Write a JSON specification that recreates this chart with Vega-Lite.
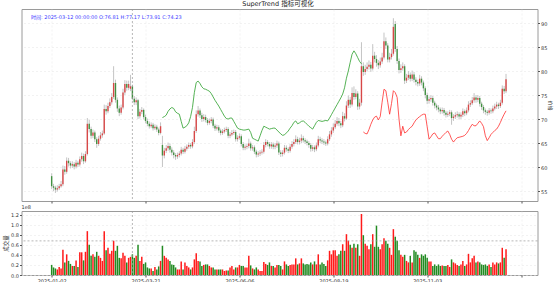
{
  "$schema": "https://vega.github.io/schema/vega-lite/v6.json",
  "background": "white",
  "padding": {"left": 2.5, "top": 0, "right": 0, "bottom": 0},
  "title": {"text": "SuperTrend 指标可视化", "anchor": "middle", "fontSize": 6.5, "fontWeight": "normal", "offset": 1, "color": "#222222"},
  "config": {
    "font": "DejaVu Sans, Noto Sans CJK SC",
    "view": {"stroke": "#9a9a9a", "strokeWidth": 1},
    "axis": {"labelFontSize": 5, "titleFontSize": 5.5, "tickSize": 2, "labelPadding": 1, "titlePadding": 2, "domain": false, "labelOverlap": false, "tickColor": "#555555", "labelColor": "#333333", "titleColor": "#333333", "gridColor": "#e4e4e4", "gridDash": [2, 2], "gridWidth": 0.5, "titleFontWeight": "normal"}
  },
  "datasets": {
    "k": [
      {"i":0,"o":58.1,"h":58.7,"l":55.4,"c":56.0,"v":20000000},
      {"i":1,"o":56.0,"h":56.5,"l":55.0,"c":55.7,"v":15000000},
      {"i":2,"o":55.7,"h":56.1,"l":54.6,"c":55.3,"v":13000000},
      {"i":3,"o":55.3,"h":56.2,"l":54.9,"c":55.6,"v":11000000},
      {"i":4,"o":55.6,"h":56.5,"l":55.2,"c":56.0,"v":16000000},
      {"i":5,"o":56.0,"h":57.1,"l":55.7,"c":56.4,"v":13000000},
      {"i":6,"o":56.4,"h":60.3,"l":56.0,"c":59.5,"v":50000000},
      {"i":7,"o":59.5,"h":60.2,"l":58.4,"c":59.0,"v":25000000},
      {"i":8,"o":59.0,"h":62.0,"l":58.6,"c":61.3,"v":41000000},
      {"i":9,"o":61.3,"h":61.9,"l":60.1,"c":60.8,"v":28000000},
      {"i":10,"o":60.8,"h":61.2,"l":59.7,"c":60.3,"v":22000000},
      {"i":11,"o":60.3,"h":61.2,"l":59.8,"c":60.6,"v":18000000},
      {"i":12,"o":60.6,"h":61.0,"l":59.5,"c":60.1,"v":18000000},
      {"i":13,"o":60.1,"h":61.5,"l":59.7,"c":60.9,"v":29000000},
      {"i":14,"o":60.9,"h":61.3,"l":60.0,"c":60.5,"v":16000000},
      {"i":15,"o":60.5,"h":62.2,"l":60.1,"c":61.6,"v":45000000},
      {"i":16,"o":61.6,"h":63.0,"l":61.1,"c":62.3,"v":45000000},
      {"i":17,"o":62.3,"h":62.8,"l":60.6,"c":61.2,"v":29000000},
      {"i":18,"o":61.2,"h":63.3,"l":60.9,"c":62.7,"v":46000000},
      {"i":19,"o":62.7,"h":70.2,"l":62.4,"c":69.0,"v":87000000},
      {"i":20,"o":69.0,"h":69.8,"l":67.2,"c":67.9,"v":60000000},
      {"i":21,"o":67.9,"h":68.4,"l":65.9,"c":66.5,"v":38000000},
      {"i":22,"o":66.5,"h":67.8,"l":66.0,"c":67.2,"v":41000000},
      {"i":23,"o":67.2,"h":67.6,"l":65.2,"c":65.8,"v":36000000},
      {"i":24,"o":65.8,"h":66.2,"l":64.0,"c":64.8,"v":46000000},
      {"i":25,"o":64.8,"h":66.5,"l":64.4,"c":65.9,"v":38000000},
      {"i":26,"o":65.9,"h":67.3,"l":65.5,"c":66.6,"v":34000000},
      {"i":27,"o":66.6,"h":67.6,"l":66.1,"c":67.0,"v":28000000},
      {"i":28,"o":67.0,"h":73.0,"l":66.7,"c":72.1,"v":87000000},
      {"i":29,"o":72.1,"h":72.9,"l":70.9,"c":71.6,"v":49000000},
      {"i":30,"o":71.6,"h":73.4,"l":71.2,"c":72.7,"v":54000000},
      {"i":31,"o":72.7,"h":74.3,"l":72.3,"c":73.5,"v":42000000},
      {"i":32,"o":73.5,"h":75.4,"l":73.0,"c":74.6,"v":48000000},
      {"i":33,"o":74.6,"h":81.0,"l":74.2,"c":77.5,"v":68000000},
      {"i":34,"o":77.5,"h":78.2,"l":73.4,"c":74.0,"v":48000000},
      {"i":35,"o":74.0,"h":74.5,"l":71.5,"c":72.2,"v":58000000},
      {"i":36,"o":72.2,"h":72.8,"l":70.6,"c":71.3,"v":34000000},
      {"i":37,"o":71.3,"h":73.0,"l":70.9,"c":72.4,"v":33000000},
      {"i":38,"o":72.4,"h":76.3,"l":72.0,"c":75.5,"v":44000000},
      {"i":39,"o":75.5,"h":78.1,"l":75.0,"c":77.3,"v":38000000},
      {"i":40,"o":77.3,"h":78.0,"l":75.9,"c":76.5,"v":25000000},
      {"i":41,"o":76.5,"h":78.0,"l":76.0,"c":77.3,"v":34000000},
      {"i":42,"o":76.3,"h":79.2,"l":75.8,"c":76.81,"v":36000000},
      {"i":43,"o":76.81,"h":77.17,"l":73.91,"c":74.23,"v":41000000},
      {"i":44,"o":74.2,"h":74.8,"l":72.9,"c":73.5,"v":34000000},
      {"i":45,"o":73.5,"h":74.5,"l":72.9,"c":73.9,"v":38000000},
      {"i":46,"o":73.9,"h":74.2,"l":70.0,"c":70.6,"v":60000000},
      {"i":47,"o":70.6,"h":72.1,"l":70.1,"c":71.5,"v":28000000},
      {"i":48,"o":71.5,"h":72.5,"l":71.0,"c":71.9,"v":36000000},
      {"i":49,"o":71.9,"h":72.2,"l":69.9,"c":70.4,"v":22000000},
      {"i":50,"o":70.4,"h":70.9,"l":69.1,"c":69.6,"v":25000000},
      {"i":51,"o":69.6,"h":70.1,"l":68.5,"c":69.0,"v":15000000},
      {"i":52,"o":69.0,"h":69.5,"l":68.0,"c":68.5,"v":13000000},
      {"i":53,"o":68.5,"h":69.3,"l":68.1,"c":68.8,"v":13000000},
      {"i":54,"o":68.8,"h":69.2,"l":67.6,"c":68.1,"v":8000000},
      {"i":55,"o":68.1,"h":68.9,"l":67.7,"c":68.4,"v":16000000},
      {"i":56,"o":68.4,"h":68.8,"l":67.3,"c":67.8,"v":11000000},
      {"i":57,"o":67.8,"h":68.2,"l":66.6,"c":67.1,"v":17000000},
      {"i":58,"o":67.1,"h":69.3,"l":66.8,"c":68.5,"v":28000000},
      {"i":59,"o":64.6,"h":66.5,"l":60.0,"c":62.4,"v":58000000,"st":70.3,"t":"down"},
      {"i":60,"o":62.4,"h":64.0,"l":61.8,"c":63.4,"v":38000000,"st":70.5,"t":"down"},
      {"i":61,"o":63.4,"h":64.6,"l":62.9,"c":63.9,"v":34000000,"st":70.8,"t":"down"},
      {"i":62,"o":63.9,"h":65.1,"l":63.4,"c":64.4,"v":31000000,"st":71.6,"t":"down"},
      {"i":63,"o":64.4,"h":64.9,"l":63.0,"c":63.6,"v":28000000,"st":72.1,"t":"down"},
      {"i":64,"o":63.6,"h":64.1,"l":62.4,"c":63.0,"v":21000000,"st":72.4,"t":"down"},
      {"i":65,"o":63.0,"h":63.5,"l":61.8,"c":62.5,"v":20000000,"st":72.2,"t":"down"},
      {"i":66,"o":62.5,"h":62.9,"l":61.5,"c":62.2,"v":15000000,"st":71.5,"t":"down"},
      {"i":67,"o":62.2,"h":63.0,"l":61.7,"c":62.5,"v":11000000,"st":71.2,"t":"down"},
      {"i":68,"o":62.5,"h":63.3,"l":62.0,"c":62.8,"v":11000000,"st":71.0,"t":"down"},
      {"i":69,"o":62.8,"h":64.2,"l":62.4,"c":63.6,"v":27000000,"st":69.5,"t":"down"},
      {"i":70,"o":63.6,"h":64.0,"l":62.7,"c":63.2,"v":11000000,"st":68.1,"t":"down"},
      {"i":71,"o":63.2,"h":64.4,"l":62.8,"c":63.8,"v":25000000,"st":68.3,"t":"down"},
      {"i":72,"o":63.8,"h":64.7,"l":63.4,"c":64.2,"v":18000000,"st":68.6,"t":"down"},
      {"i":73,"o":64.2,"h":65.1,"l":63.8,"c":64.6,"v":15000000,"st":69.2,"t":"down"},
      {"i":74,"o":64.6,"h":65.0,"l":63.8,"c":64.3,"v":11000000,"st":70.5,"t":"down"},
      {"i":75,"o":64.3,"h":65.8,"l":63.9,"c":65.2,"v":15000000,"st":72.4,"t":"down"},
      {"i":76,"o":65.2,"h":68.4,"l":64.8,"c":67.5,"v":31000000,"st":75.5,"t":"down"},
      {"i":77,"o":67.5,"h":71.8,"l":67.1,"c":71.0,"v":43000000,"st":77.6,"t":"down"},
      {"i":78,"o":71.0,"h":72.7,"l":70.5,"c":71.8,"v":28000000,"st":77.9,"t":"down"},
      {"i":79,"o":71.8,"h":72.2,"l":70.2,"c":70.8,"v":27000000,"st":77.4,"t":"down"},
      {"i":80,"o":70.8,"h":71.3,"l":69.4,"c":70.0,"v":18000000,"st":76.7,"t":"down"},
      {"i":81,"o":70.0,"h":71.0,"l":69.5,"c":70.4,"v":20000000,"st":76.3,"t":"down"},
      {"i":82,"o":70.4,"h":70.9,"l":69.3,"c":69.8,"v":21000000,"st":76.2,"t":"down"},
      {"i":83,"o":69.8,"h":70.2,"l":68.7,"c":69.2,"v":21000000,"st":76.0,"t":"down"},
      {"i":84,"o":69.2,"h":70.1,"l":68.8,"c":69.6,"v":18000000,"st":75.8,"t":"down"},
      {"i":85,"o":69.6,"h":70.4,"l":69.1,"c":69.9,"v":15000000,"st":75.3,"t":"down"},
      {"i":86,"o":69.9,"h":70.3,"l":68.1,"c":68.6,"v":15000000,"st":74.6,"t":"down"},
      {"i":87,"o":68.6,"h":69.0,"l":67.5,"c":68.0,"v":11000000,"st":73.9,"t":"down"},
      {"i":88,"o":68.0,"h":68.8,"l":67.6,"c":68.3,"v":11000000,"st":73.3,"t":"down"},
      {"i":89,"o":68.3,"h":68.7,"l":67.1,"c":67.6,"v":11000000,"st":72.7,"t":"down"},
      {"i":90,"o":67.6,"h":68.0,"l":66.6,"c":67.1,"v":11000000,"st":72.0,"t":"down"},
      {"i":91,"o":67.1,"h":67.9,"l":66.7,"c":67.4,"v":11000000,"st":71.3,"t":"down"},
      {"i":92,"o":67.4,"h":68.2,"l":67.0,"c":67.7,"v":8000000,"st":70.6,"t":"down"},
      {"i":93,"o":67.7,"h":68.4,"l":67.3,"c":67.9,"v":9000000,"st":70.1,"t":"down"},
      {"i":94,"o":67.9,"h":68.3,"l":66.0,"c":66.5,"v":9000000,"st":70.0,"t":"down"},
      {"i":95,"o":66.5,"h":67.3,"l":66.0,"c":66.8,"v":15000000,"st":70.2,"t":"down"},
      {"i":96,"o":66.8,"h":67.7,"l":66.4,"c":67.1,"v":18000000,"st":70.2,"t":"down"},
      {"i":97,"o":67.1,"h":67.8,"l":66.7,"c":67.3,"v":11000000,"st":69.5,"t":"down"},
      {"i":98,"o":67.3,"h":67.7,"l":65.3,"c":65.8,"v":15000000,"st":68.8,"t":"down"},
      {"i":99,"o":65.8,"h":66.6,"l":65.3,"c":66.1,"v":15000000,"st":68.1,"t":"down"},
      {"i":100,"o":66.1,"h":67.0,"l":65.7,"c":66.4,"v":20000000,"st":67.9,"t":"down"},
      {"i":101,"o":66.4,"h":66.8,"l":64.3,"c":64.8,"v":18000000,"st":67.8,"t":"down"},
      {"i":102,"o":64.8,"h":65.2,"l":63.5,"c":64.0,"v":18000000,"st":67.7,"t":"down"},
      {"i":103,"o":64.0,"h":64.7,"l":63.5,"c":64.2,"v":15000000,"st":67.7,"t":"down"},
      {"i":104,"o":64.2,"h":64.9,"l":63.7,"c":64.4,"v":15000000,"st":67.8,"t":"down"},
      {"i":105,"o":64.4,"h":65.9,"l":63.9,"c":64.9,"v":38000000,"st":67.9,"t":"down"},
      {"i":106,"o":64.9,"h":65.3,"l":63.4,"c":63.9,"v":19000000,"st":67.2,"t":"down"},
      {"i":107,"o":63.9,"h":64.6,"l":63.4,"c":64.1,"v":13000000,"st":66.0,"t":"down"},
      {"i":108,"o":64.1,"h":64.5,"l":62.7,"c":63.2,"v":11000000,"st":65.8,"t":"down"},
      {"i":109,"o":63.2,"h":63.6,"l":62.0,"c":62.6,"v":15000000,"st":65.6,"t":"down"},
      {"i":110,"o":62.6,"h":63.3,"l":62.1,"c":62.8,"v":11000000,"st":65.4,"t":"down"},
      {"i":111,"o":62.8,"h":63.5,"l":62.3,"c":63.0,"v":8000000,"st":66.5,"t":"down"},
      {"i":112,"o":63.0,"h":63.7,"l":62.6,"c":63.2,"v":8000000,"st":67.6,"t":"down"},
      {"i":113,"o":63.2,"h":65.2,"l":62.8,"c":64.6,"v":26000000,"st":68.5,"t":"down"},
      {"i":114,"o":64.6,"h":65.8,"l":64.1,"c":65.2,"v":22000000,"st":68.3,"t":"down"},
      {"i":115,"o":65.2,"h":65.6,"l":64.3,"c":64.8,"v":20000000,"st":68.1,"t":"down"},
      {"i":116,"o":64.8,"h":65.2,"l":63.8,"c":64.3,"v":25000000,"st":67.9,"t":"down"},
      {"i":117,"o":64.3,"h":65.2,"l":63.8,"c":64.7,"v":18000000,"st":68.0,"t":"down"},
      {"i":118,"o":64.7,"h":65.1,"l":63.7,"c":64.2,"v":18000000,"st":68.1,"t":"down"},
      {"i":119,"o":64.2,"h":65.0,"l":63.7,"c":64.5,"v":15000000,"st":68.1,"t":"down"},
      {"i":120,"o":64.5,"h":65.5,"l":64.0,"c":64.9,"v":20000000,"st":67.7,"t":"down"},
      {"i":121,"o":64.9,"h":65.3,"l":62.5,"c":63.0,"v":20000000,"st":67.3,"t":"down"},
      {"i":122,"o":63.0,"h":63.5,"l":62.1,"c":62.7,"v":18000000,"st":66.9,"t":"down"},
      {"i":123,"o":62.7,"h":63.5,"l":62.2,"c":63.0,"v":11000000,"st":66.6,"t":"down"},
      {"i":124,"o":63.0,"h":64.6,"l":62.6,"c":64.0,"v":27000000,"st":66.7,"t":"down"},
      {"i":125,"o":64.0,"h":64.5,"l":63.2,"c":63.7,"v":21000000,"st":67.1,"t":"down"},
      {"i":126,"o":63.7,"h":64.1,"l":62.9,"c":63.4,"v":18000000,"st":67.5,"t":"down"},
      {"i":127,"o":63.4,"h":64.8,"l":63.0,"c":64.2,"v":20000000,"st":68.1,"t":"down"},
      {"i":128,"o":64.2,"h":65.4,"l":63.8,"c":64.8,"v":21000000,"st":68.6,"t":"down"},
      {"i":129,"o":64.8,"h":65.8,"l":64.3,"c":65.2,"v":21000000,"st":69.3,"t":"down"},
      {"i":130,"o":65.2,"h":66.6,"l":64.8,"c":65.8,"v":33000000,"st":69.6,"t":"down"},
      {"i":131,"o":65.8,"h":66.3,"l":64.7,"c":65.2,"v":21000000,"st":69.0,"t":"down"},
      {"i":132,"o":65.2,"h":66.1,"l":64.7,"c":65.5,"v":23000000,"st":69.2,"t":"down"},
      {"i":133,"o":65.5,"h":66.8,"l":65.0,"c":66.0,"v":33000000,"st":69.5,"t":"down"},
      {"i":134,"o":66.0,"h":66.5,"l":65.1,"c":65.6,"v":23000000,"st":69.6,"t":"down"},
      {"i":135,"o":65.6,"h":66.0,"l":64.8,"c":65.3,"v":21000000,"st":69.3,"t":"down"},
      {"i":136,"o":65.3,"h":65.7,"l":64.5,"c":65.0,"v":22000000,"st":68.9,"t":"down"},
      {"i":137,"o":65.0,"h":65.4,"l":64.0,"c":64.6,"v":21000000,"st":68.5,"t":"down"},
      {"i":138,"o":64.6,"h":65.0,"l":63.2,"c":63.8,"v":25000000,"st":68.2,"t":"down"},
      {"i":139,"o":63.8,"h":64.6,"l":63.3,"c":64.1,"v":21000000,"st":67.9,"t":"down"},
      {"i":140,"o":64.1,"h":64.5,"l":63.1,"c":63.7,"v":27000000,"st":68.6,"t":"down"},
      {"i":141,"o":63.7,"h":65.1,"l":63.3,"c":64.5,"v":21000000,"st":69.3,"t":"down"},
      {"i":142,"o":64.5,"h":66.5,"l":64.1,"c":65.8,"v":41000000,"st":69.7,"t":"down"},
      {"i":143,"o":65.8,"h":66.3,"l":65.0,"c":65.5,"v":21000000,"st":69.6,"t":"down"},
      {"i":144,"o":65.5,"h":66.0,"l":64.8,"c":65.3,"v":25000000,"st":69.5,"t":"down"},
      {"i":145,"o":65.3,"h":65.8,"l":64.6,"c":65.1,"v":22000000,"st":69.6,"t":"down"},
      {"i":146,"o":65.1,"h":65.5,"l":64.4,"c":64.9,"v":18000000,"st":69.7,"t":"down"},
      {"i":147,"o":64.9,"h":66.4,"l":64.5,"c":65.8,"v":29000000,"st":69.6,"t":"down"},
      {"i":148,"o":65.8,"h":67.5,"l":65.4,"c":66.8,"v":48000000,"st":70.2,"t":"down"},
      {"i":149,"o":66.8,"h":68.3,"l":66.3,"c":67.6,"v":41000000,"st":70.9,"t":"down"},
      {"i":150,"o":67.6,"h":69.1,"l":67.1,"c":68.3,"v":49000000,"st":71.6,"t":"down"},
      {"i":151,"o":68.3,"h":69.8,"l":67.9,"c":69.0,"v":49000000,"st":72.3,"t":"down"},
      {"i":152,"o":69.0,"h":70.4,"l":68.6,"c":69.6,"v":38000000,"st":73.0,"t":"down"},
      {"i":153,"o":69.6,"h":70.2,"l":68.5,"c":69.1,"v":41000000,"st":73.7,"t":"down"},
      {"i":154,"o":69.1,"h":69.6,"l":68.1,"c":68.7,"v":48000000,"st":74.4,"t":"down"},
      {"i":155,"o":68.7,"h":71.5,"l":68.3,"c":70.6,"v":61000000,"st":75.2,"t":"down"},
      {"i":156,"o":70.6,"h":71.2,"l":69.5,"c":70.1,"v":48000000,"st":76.5,"t":"down"},
      {"i":157,"o":70.1,"h":73.7,"l":69.8,"c":72.8,"v":81000000,"st":78.5,"t":"down"},
      {"i":158,"o":72.8,"h":74.9,"l":72.3,"c":74.0,"v":68000000,"st":80.0,"t":"down"},
      {"i":159,"o":74.0,"h":74.6,"l":72.3,"c":73.0,"v":60000000,"st":81.8,"t":"down"},
      {"i":160,"o":73.0,"h":76.6,"l":72.6,"c":75.4,"v":54000000,"st":83.5,"t":"down"},
      {"i":161,"o":75.4,"h":76.8,"l":74.0,"c":74.6,"v":62000000,"st":84.2,"t":"down"},
      {"i":162,"o":74.6,"h":76.2,"l":74.1,"c":75.3,"v":54000000,"st":83.6,"t":"down"},
      {"i":163,"o":75.3,"h":75.8,"l":71.9,"c":72.6,"v":61000000,"st":82.8,"t":"down"},
      {"i":164,"o":72.6,"h":74.2,"l":72.0,"c":73.4,"v":38000000,"st":82.0,"t":"down"},
      {"i":165,"o":73.4,"h":86.0,"l":72.8,"c":81.0,"v":121000000,"st":81.5,"t":"down"},
      {"i":166,"o":81.0,"h":81.8,"l":79.0,"c":79.8,"v":79000000,"st":67.3,"t":"up"},
      {"i":167,"o":79.8,"h":81.3,"l":79.2,"c":80.4,"v":62000000,"st":67.0,"t":"up"},
      {"i":168,"o":80.4,"h":81.8,"l":79.9,"c":80.9,"v":58000000,"st":66.9,"t":"up"},
      {"i":169,"o":80.9,"h":82.2,"l":80.3,"c":81.3,"v":51000000,"st":67.8,"t":"up"},
      {"i":170,"o":81.3,"h":81.9,"l":79.8,"c":80.5,"v":61000000,"st":68.9,"t":"up"},
      {"i":171,"o":80.5,"h":85.6,"l":80.1,"c":83.2,"v":81000000,"st":69.8,"t":"up"},
      {"i":172,"o":83.2,"h":84.0,"l":81.8,"c":82.5,"v":56000000,"st":70.4,"t":"up"},
      {"i":173,"o":82.5,"h":83.3,"l":80.9,"c":81.7,"v":98000000,"st":70.6,"t":"up"},
      {"i":174,"o":81.7,"h":82.3,"l":80.4,"c":81.2,"v":56000000,"st":69.8,"t":"up"},
      {"i":175,"o":81.2,"h":82.8,"l":80.7,"c":82.0,"v":51000000,"st":70.5,"t":"up"},
      {"i":176,"o":82.0,"h":83.8,"l":81.5,"c":82.8,"v":61000000,"st":73.5,"t":"up"},
      {"i":177,"o":82.8,"h":88.0,"l":82.4,"c":86.2,"v":73000000,"st":76.2,"t":"up"},
      {"i":178,"o":86.2,"h":87.0,"l":84.6,"c":85.3,"v":68000000,"st":75.9,"t":"up"},
      {"i":179,"o":85.3,"h":85.8,"l":81.8,"c":82.4,"v":62000000,"st":73.5,"t":"up"},
      {"i":180,"o":82.4,"h":83.8,"l":81.8,"c":82.9,"v":54000000,"st":71.0,"t":"up"},
      {"i":181,"o":82.9,"h":84.6,"l":82.4,"c":83.6,"v":40000000,"st":73.2,"t":"up"},
      {"i":182,"o":83.6,"h":91.0,"l":83.2,"c":89.2,"v":91000000,"st":75.9,"t":"up"},
      {"i":183,"o":89.8,"h":90.4,"l":84.0,"c":84.6,"v":76000000,"st":75.5,"t":"up"},
      {"i":184,"o":84.6,"h":85.2,"l":81.5,"c":82.1,"v":68000000,"st":74.5,"t":"up"},
      {"i":185,"o":82.1,"h":82.6,"l":79.5,"c":80.2,"v":49000000,"st":70.0,"t":"up"},
      {"i":186,"o":80.2,"h":81.4,"l":79.6,"c":80.6,"v":40000000,"st":66.5,"t":"up"},
      {"i":187,"o":80.6,"h":81.8,"l":80.1,"c":81.0,"v":36000000,"st":68.5,"t":"up"},
      {"i":188,"o":81.0,"h":81.4,"l":77.3,"c":78.0,"v":40000000,"st":67.1,"t":"up"},
      {"i":189,"o":78.0,"h":79.4,"l":77.5,"c":78.6,"v":28000000,"st":67.3,"t":"up"},
      {"i":190,"o":78.6,"h":80.0,"l":78.1,"c":79.2,"v":25000000,"st":67.8,"t":"up"},
      {"i":191,"o":79.2,"h":79.7,"l":77.8,"c":78.4,"v":38000000,"st":68.2,"t":"up"},
      {"i":192,"o":78.4,"h":80.1,"l":77.9,"c":79.3,"v":25000000,"st":68.5,"t":"up"},
      {"i":193,"o":79.3,"h":79.8,"l":77.6,"c":78.2,"v":49000000,"st":69.2,"t":"up"},
      {"i":194,"o":78.2,"h":78.7,"l":77.0,"c":77.7,"v":46000000,"st":69.8,"t":"up"},
      {"i":195,"o":77.7,"h":78.2,"l":76.8,"c":77.4,"v":40000000,"st":70.2,"t":"up"},
      {"i":196,"o":77.4,"h":79.2,"l":76.9,"c":78.4,"v":34000000,"st":70.5,"t":"up"},
      {"i":197,"o":78.4,"h":78.9,"l":77.0,"c":77.6,"v":41000000,"st":70.8,"t":"up"},
      {"i":198,"o":77.6,"h":78.0,"l":75.8,"c":76.4,"v":38000000,"st":71.0,"t":"up"},
      {"i":199,"o":76.4,"h":76.8,"l":74.3,"c":75.0,"v":41000000,"st":71.0,"t":"up"},
      {"i":200,"o":75.0,"h":75.5,"l":73.1,"c":73.8,"v":34000000,"st":68.4,"t":"up"},
      {"i":201,"o":73.8,"h":74.7,"l":73.2,"c":74.1,"v":27000000,"st":65.8,"t":"up"},
      {"i":202,"o":74.1,"h":75.0,"l":73.6,"c":74.4,"v":27000000,"st":66.3,"t":"up"},
      {"i":203,"o":74.4,"h":74.8,"l":72.8,"c":73.4,"v":18000000,"st":66.9,"t":"up"},
      {"i":204,"o":73.4,"h":73.8,"l":72.2,"c":72.8,"v":21000000,"st":67.1,"t":"up"},
      {"i":205,"o":72.8,"h":73.2,"l":71.8,"c":72.4,"v":18000000,"st":66.5,"t":"up"},
      {"i":206,"o":72.4,"h":72.9,"l":71.4,"c":72.0,"v":21000000,"st":65.9,"t":"up"},
      {"i":207,"o":72.0,"h":72.4,"l":71.0,"c":71.6,"v":18000000,"st":65.9,"t":"up"},
      {"i":208,"o":71.6,"h":72.4,"l":71.1,"c":71.9,"v":19000000,"st":66.4,"t":"up"},
      {"i":209,"o":71.9,"h":72.3,"l":70.7,"c":71.3,"v":18000000,"st":66.8,"t":"up"},
      {"i":210,"o":71.3,"h":71.7,"l":70.3,"c":70.9,"v":18000000,"st":67.2,"t":"up"},
      {"i":211,"o":70.9,"h":71.6,"l":70.4,"c":71.1,"v":20000000,"st":67.5,"t":"up"},
      {"i":212,"o":71.1,"h":71.9,"l":70.6,"c":71.4,"v":16000000,"st":66.8,"t":"up"},
      {"i":213,"o":71.4,"h":71.8,"l":68.8,"c":70.2,"v":31000000,"st":65.8,"t":"up"},
      {"i":214,"o":70.2,"h":71.0,"l":69.6,"c":70.5,"v":25000000,"st":65.2,"t":"up"},
      {"i":215,"o":70.5,"h":71.4,"l":70.0,"c":70.8,"v":23000000,"st":65.7,"t":"up"},
      {"i":216,"o":70.8,"h":71.6,"l":70.3,"c":71.0,"v":20000000,"st":66.1,"t":"up"},
      {"i":217,"o":71.0,"h":71.4,"l":69.9,"c":70.5,"v":18000000,"st":66.2,"t":"up"},
      {"i":218,"o":70.5,"h":71.4,"l":70.0,"c":70.9,"v":21000000,"st":66.3,"t":"up"},
      {"i":219,"o":70.9,"h":72.2,"l":70.4,"c":71.6,"v":28000000,"st":66.4,"t":"up"},
      {"i":220,"o":71.6,"h":72.0,"l":70.6,"c":71.2,"v":18000000,"st":66.6,"t":"up"},
      {"i":221,"o":71.2,"h":72.4,"l":70.8,"c":71.8,"v":21000000,"st":67.0,"t":"up"},
      {"i":222,"o":71.8,"h":73.7,"l":71.4,"c":73.0,"v":42000000,"st":67.6,"t":"up"},
      {"i":223,"o":73.0,"h":73.9,"l":72.5,"c":73.3,"v":25000000,"st":68.3,"t":"up"},
      {"i":224,"o":73.3,"h":74.6,"l":72.9,"c":73.9,"v":33000000,"st":68.9,"t":"up"},
      {"i":225,"o":73.9,"h":75.4,"l":73.4,"c":74.5,"v":38000000,"st":68.6,"t":"up"},
      {"i":226,"o":74.5,"h":75.0,"l":73.4,"c":74.0,"v":25000000,"st":68.6,"t":"up"},
      {"i":227,"o":74.0,"h":75.0,"l":73.5,"c":74.4,"v":27000000,"st":69.1,"t":"up"},
      {"i":228,"o":74.4,"h":74.8,"l":72.6,"c":73.2,"v":25000000,"st":69.6,"t":"up"},
      {"i":229,"o":73.2,"h":73.6,"l":71.9,"c":72.5,"v":21000000,"st":69.1,"t":"up"},
      {"i":230,"o":72.5,"h":72.9,"l":71.2,"c":71.8,"v":20000000,"st":68.4,"t":"up"},
      {"i":231,"o":71.8,"h":72.2,"l":70.9,"c":71.5,"v":21000000,"st":66.5,"t":"up"},
      {"i":232,"o":71.5,"h":71.9,"l":70.7,"c":71.3,"v":18000000,"st":65.5,"t":"up"},
      {"i":233,"o":71.3,"h":72.3,"l":70.9,"c":71.8,"v":21000000,"st":66.1,"t":"up"},
      {"i":234,"o":71.8,"h":72.2,"l":71.1,"c":71.6,"v":16000000,"st":66.8,"t":"up"},
      {"i":235,"o":71.6,"h":72.8,"l":71.2,"c":72.2,"v":25000000,"st":67.2,"t":"up"},
      {"i":236,"o":72.2,"h":73.2,"l":71.8,"c":72.6,"v":21000000,"st":67.6,"t":"up"},
      {"i":237,"o":72.6,"h":73.6,"l":72.1,"c":73.0,"v":25000000,"st":67.9,"t":"up"},
      {"i":238,"o":73.0,"h":73.4,"l":72.1,"c":72.7,"v":23000000,"st":68.5,"t":"up"},
      {"i":239,"o":72.7,"h":74.0,"l":72.3,"c":73.4,"v":25000000,"st":69.3,"t":"up"},
      {"i":240,"o":73.4,"h":77.0,"l":73.0,"c":76.3,"v":54000000,"st":70.2,"t":"up"},
      {"i":241,"o":76.3,"h":76.9,"l":75.2,"c":75.8,"v":34000000,"st":71.0,"t":"up"},
      {"i":242,"o":75.8,"h":79.4,"l":75.4,"c":78.3,"v":51000000,"st":71.7,"t":"up"}
    ],
    "cross": [{"i": 43, "v": 67700000}],
    "info": [{"i": -11, "p": 91.3, "label": "时间: 2025-03-12 00:00:00  O:76.81 H:77.17 L:73.91 C:74.23"}]
  },
  "spacing": 10,
  "bounds": "flush",
  "vconcat": [
    {
      "width": 516,
      "height": 192,
      "layer": [
        {
          "data": {"name": "k"},
          "mark": {"type": "rule", "color": "#c4c4c4", "strokeWidth": 1},
          "encoding": {
            "x": {"field": "i", "type": "quantitative", "scale": {"domain": [-13.4, 256.1], "nice": false, "zero": false}, "axis": {"values": [0, 50, 100, 150, 200, 250], "tickCount": 30, "labels": false, "title": null, "grid": true}},
            "y": {"field": "l", "type": "quantitative", "scale": {"domain": [52.92, 92.92], "nice": false, "zero": false}, "axis": {"orient": "right", "values": [55, 60, 65, 70, 75, 80, 85, 90], "tickCount": 30, "labelOverlap": false, "labelBound": false, "title": "价格", "titlePadding": 0.5, "titleFontSize": 5, "grid": true}},
            "y2": {"field": "h"}
          }
        },
        {
          "data": {"name": "k"},
          "mark": {"type": "bar", "size": 1.4, "opacity": 0.85},
          "encoding": {
            "x": {"field": "i", "type": "quantitative"},
            "y": {"field": "o", "type": "quantitative"},
            "y2": {"field": "c"},
            "color": {"condition": {"test": "datum.c >= datum.o", "value": "#d93030"}, "value": "#2a862a"}
          }
        },
        {
          "data": {"name": "k"},
          "transform": [{"filter": "isValid(datum.st)"}],
          "mark": {"type": "line", "strokeWidth": 0.9, "opacity": 0.9},
          "encoding": {
            "x": {"field": "i", "type": "quantitative"},
            "y": {"field": "st", "type": "quantitative"},
            "color": {"field": "t", "type": "nominal", "scale": {"domain": ["down", "up"], "range": ["#2ca02c", "#ff3030"]}, "legend": null}
          }
        },
        {
          "data": {"name": "cross"},
          "mark": {"type": "rule", "color": "#9a9a9a", "strokeWidth": 0.7, "strokeDash": [2, 2]},
          "encoding": {"x": {"field": "i", "type": "quantitative"}}
        },
        {
          "data": {"name": "info"},
          "mark": {"type": "text", "align": "left", "baseline": "middle", "fontSize": 5, "color": "#3b3bff"},
          "encoding": {
            "x": {"field": "i", "type": "quantitative"},
            "y": {"field": "p", "type": "quantitative"},
            "text": {"field": "label"}
          }
        }
      ]
    },
    {
      "width": 516,
      "height": 64,
      "title": {"text": "1e8", "anchor": "start", "frame": "group", "fontSize": 5, "fontWeight": "normal", "offset": 1, "color": "#333333"},
      "layer": [
        {
          "data": {"name": "k"},
          "mark": {"type": "bar", "size": 1.5},
          "encoding": {
            "x": {"field": "i", "type": "quantitative", "scale": {"domain": [-13.4, 256.1], "nice": false, "zero": false}, "axis": {"values": [0, 50, 100, 150, 200, 250], "tickCount": 30, "title": null, "grid": true, "labelOverlap": false, "labelExpr": "datum.value == 0 ? '2025-01-02' : datum.value == 50 ? '2025-03-21' : datum.value == 100 ? '2025-06-06' : datum.value == 150 ? '2025-08-19' : datum.value == 200 ? '2025-11-03' : ''"}},
            "y": {"field": "v", "type": "quantitative", "scale": {"domain": [0, 127000000], "nice": false}, "axis": {"values": [0, 20000000, 40000000, 60000000, 80000000, 100000000, 120000000], "tickCount": 30, "labelOverlap": false, "labelBound": false, "labelExpr": "format(datum.value / 100000000, '.1f')", "title": "成交量", "grid": true}},
            "color": {"condition": {"test": "datum.c >= datum.o", "value": "#ff1a1a"}, "value": "#228b22"}
          }
        },
        {
          "data": {"name": "cross"},
          "mark": {"type": "rule", "color": "#9a9a9a", "strokeWidth": 0.7, "strokeDash": [2, 2]},
          "encoding": {"x": {"field": "i", "type": "quantitative"}}
        },
        {
          "data": {"name": "cross"},
          "mark": {"type": "rule", "color": "#9a9a9a", "strokeWidth": 0.7, "strokeDash": [2, 2]},
          "encoding": {"y": {"field": "v", "type": "quantitative"}}
        }
      ]
    }
  ]
}
